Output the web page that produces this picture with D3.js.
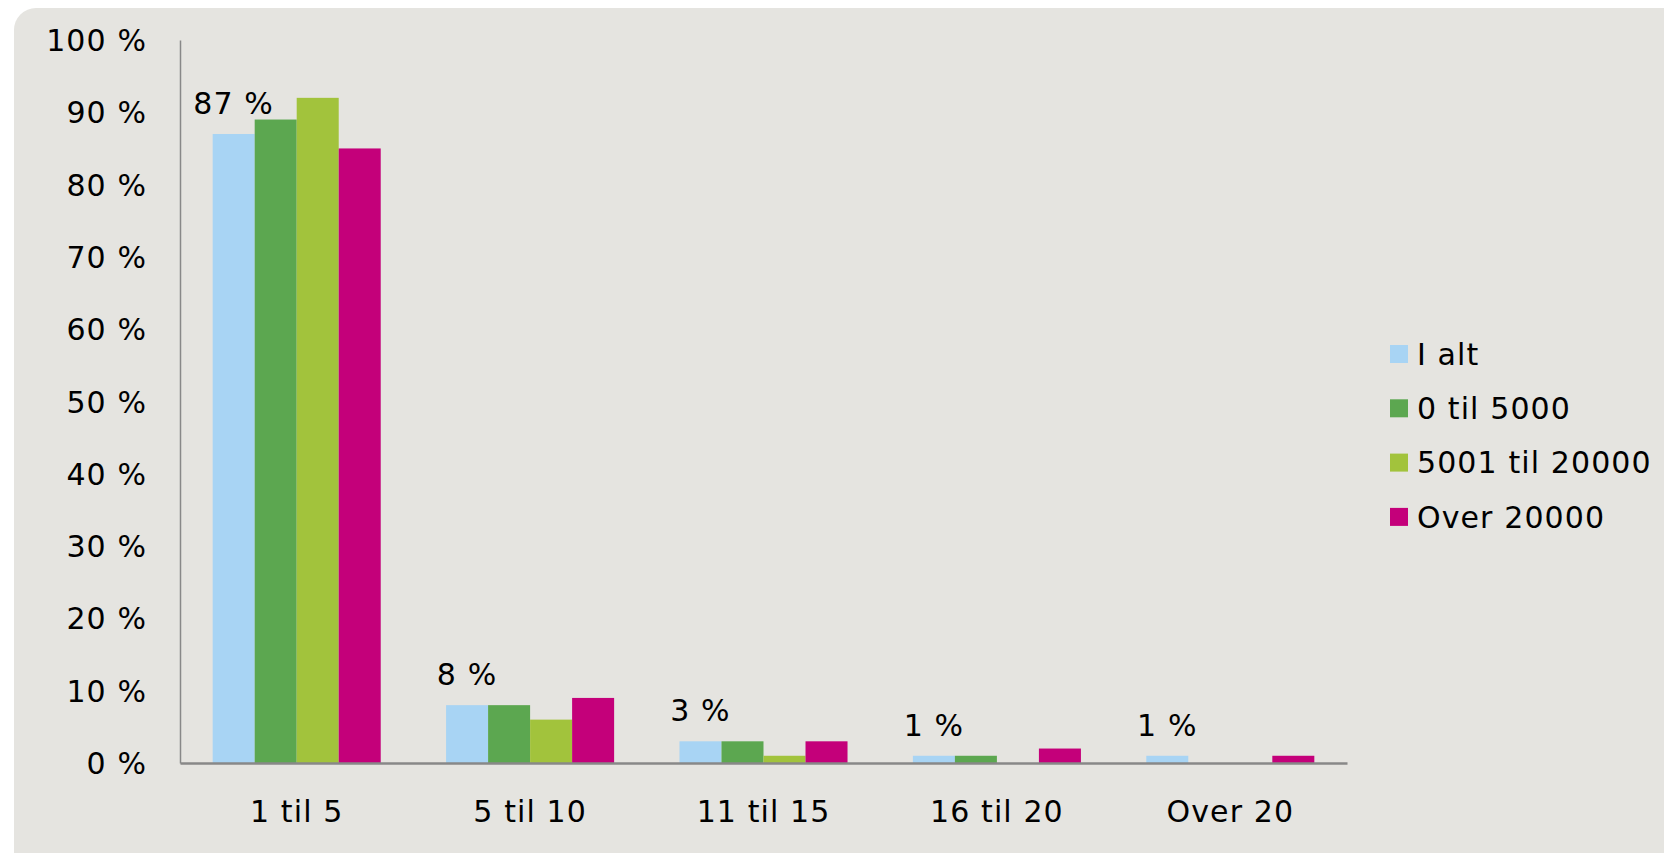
<!DOCTYPE html>
<meta charset="utf-8">
<script src="https://cdn.jsdelivr.net/npm/d3@7"></script>
<style>
  body { margin: 0; background: #fff; }
  text { font-family: "DejaVu Sans", Verdana, sans-serif; fill: #000; letter-spacing: 1.1px; }
</style>
<div id="chart"></div>
<script>

// data
var categories = ["1 til 5", "5 til 10", "11 til 15", "16 til 20", "Over 20"];
var seriesNames = ["I alt", "0 til 5000", "5001 til 20000", "Over 20000"];
var colors = ["#a8d4f4", "#5ca750", "#a2c33c", "#c4007a"];
var iAlt      = [87, 8, 3, 1, 1];
var til5000   = [89, 8, 3, 1, 0];
var til20000  = [92, 6, 1, 0, 0];
var over20000 = [85, 9, 3, 2, 1];
var yTicks = [0, 10, 20, 30, 40, 50, 60, 70, 80, 90, 100];

var series = [iAlt, til5000, til20000, over20000];

var W = 1664, H = 853;
var margin = {top: 40, left: 180, right: 317, bottom: 90};
var width = W - margin.left - margin.right,
    height = H - margin.top - margin.bottom;

var svg = d3.select("#chart").append("svg")
    .attr("width", W)
    .attr("height", H);

// background panel
svg.append("rect")
    .attr("x", 14).attr("y", 8)
    .attr("width", W + 40).attr("height", H + 20)
    .attr("rx", 22).attr("ry", 22)
    .attr("fill", "#e5e4e0");

var g = svg.append("g")
    .attr("transform", "translate(" + margin.left + "," + margin.top + ")");

var x0 = d3.scaleBand()
    .domain(categories)
    .range([0, width])
    .paddingInner(0.28)
    .paddingOuter(0.14);

var x1 = d3.scaleBand()
    .domain(seriesNames)
    .range([0, x0.bandwidth()]);

var y = d3.scaleLinear()
    .domain([0, 100])
    .range([height, 0]);

// y axis
var yAxis = g.append("g")
    .call(d3.axisLeft(y).tickValues(yTicks).tickSize(0).tickPadding(33)
      .tickFormat(function(d) { return d + " %"; }));
yAxis.select(".domain").attr("stroke", "#888").attr("stroke-width", 1.5);
yAxis.selectAll("text").style("font-size", "30px").attr("dy", "0.35em");

// bars
var groups = g.selectAll(".grp")
    .data(categories)
    .enter().append("g")
    .attr("transform", function(d) { return "translate(" + x0(d) + ",0)"; });

groups.selectAll("rect")
    .data(function(d, i) {
      return seriesNames.map(function(s, j) { return {name: s, value: series[j][i], j: j}; });
    })
    .enter().append("rect")
    .attr("x", function(d) { return x1(d.name); })
    .attr("y", function(d) { return y(d.value); })
    .attr("width", x1.bandwidth())
    .attr("height", function(d) { return height - y(d.value); })
    .attr("fill", function(d) { return colors[d.j]; });

// data labels for "I alt"
g.selectAll(".lbl")
    .data(categories)
    .enter().append("text")
    .attr("x", function(d) { return x0(d) + x1(seriesNames[0]) + x1.bandwidth() / 2; })
    .attr("y", function(d, i) { return y(iAlt[i]) - 20; })
    .attr("text-anchor", "middle")
    .style("font-size", "30px")
    .text(function(d, i) { return iAlt[i] + " %"; });

// x axis
var xAxis = g.append("g")
    .attr("transform", "translate(0," + height + ")")
    .call(d3.axisBottom(x0).tickSize(0).tickPadding(38));
xAxis.select(".domain").attr("stroke", "#888").attr("stroke-width", 2.5);
xAxis.selectAll("text").style("font-size", "30px");

// legend
var legend = svg.append("g")
    .attr("transform", "translate(1390,345)");
var items = legend.selectAll("g")
    .data(seriesNames)
    .enter().append("g")
    .attr("transform", function(d, i) { return "translate(0," + i * 54.3 + ")"; });
items.append("rect")
    .attr("width", 18).attr("height", 18)
    .attr("fill", function(d, i) { return colors[i]; });
items.append("text")
    .attr("x", 27).attr("y", 9).attr("dy", "0.36em")
    .style("font-size", "30px")
    .text(function(d) { return d; });

</script>
